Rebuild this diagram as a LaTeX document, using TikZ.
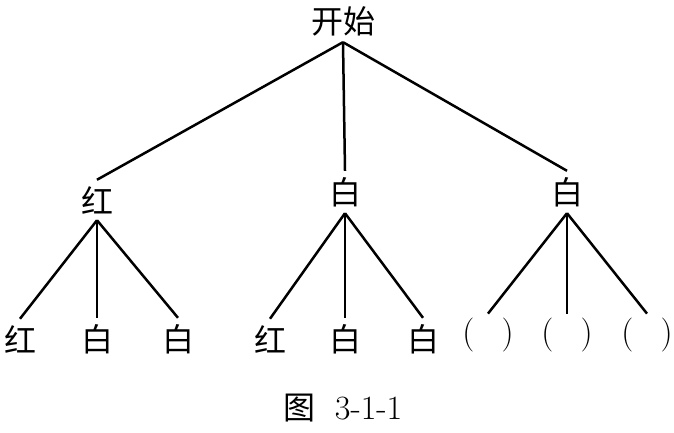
\documentclass[tikz,border=0pt]{standalone}
\usepackage{fontspec}
\newfontfamily\cjk{Noto Sans CJK SC}
\usetikzlibrary{positioning}

\begin{document}
\begin{tikzpicture}[x=0.5pt,y=-0.5pt,font=\fontsize{16}{18}\selectfont\cjk,
        n/.style={inner sep=3pt},
        p/.style={inner sep=2pt,font=\fontsize{17}{19}\selectfont},
        e/.style={line width=1.25pt}]
        \useasboundingbox (0,0) rectangle (674,433);
        \node[n] (kai) at (343,21) {开始};
        % second row
        \node[n] (r) at (97,200) {红};
        \node[n] (w1) at (345,192) {白};
        \node[n] (w2) at (567,192) {白};
        \draw[e] (kai.south) -- (r.north); \draw[e] (kai.south) -- (w1.north); \draw[e] (kai.south) -- (w2.north);
        % leaves
        \node[n] (rr) at (20,339) {红};
        \node[n] (rw) at (97,339) {白};
        \node[n] (rw2) at (178,339) {白};
        \node[n] (wr) at (270,339) {红};
        \node[n] (ww) at (345,339) {白};
        \node[n] (ww2) at (423,339) {白};
        \node[p] (q1) at (488,335) {(\hspace{0.8em})};
        \node[p] (q2) at (567,335) {(\hspace{0.8em})};
        \node[p] (q3) at (647,335) {(\hspace{0.8em})};
        \foreach \c in {rr,rw,rw2} \draw[e] (r.south) -- (\c.north);
        \foreach \c in {wr,ww,ww2} \draw[e] (w1.south) -- (\c.north);
        \foreach \c in {q1,q2,q3} \draw[e] (w2.south) -- (\c.north);
        \node (cap) at (343,408) {图\hspace{0.6em}{\fontsize{17}{19}\selectfont\rmfamily 3-1-1}};
      \end{tikzpicture}
\end{document}
